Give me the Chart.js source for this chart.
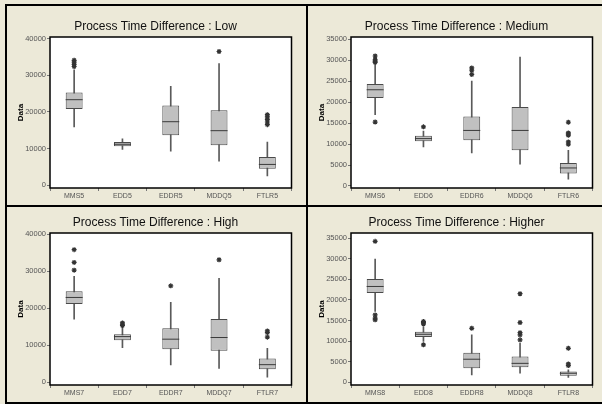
<!DOCTYPE html>
<html>
<head>
<meta charset="utf-8">
<script src="https://cdn.jsdelivr.net/npm/chart.js@4/dist/chart.umd.min.js"></script>
<style>
  html, body { margin: 0; padding: 0; }
  body { width: 602px; height: 404px; background: #ECE9D8; position: relative; overflow: hidden; }
  .rule { position: absolute; background: #000; }
  canvas { position: absolute; }
</style>
</head>
<body>
<div class="rule" style="left:5px;top:4px;width:597px;height:2px"></div>
<div class="rule" style="left:5px;top:4px;width:2px;height:400px"></div>
<div class="rule" style="left:306px;top:4px;width:2px;height:400px"></div>
<div class="rule" style="left:5px;top:205px;width:597px;height:2px"></div>
<div class="rule" style="left:5px;top:402px;width:597px;height:2px"></div>

<canvas id="low" width="294" height="193" style="left:7px;top:11px"></canvas>
<canvas id="medium" width="294" height="193" style="left:308px;top:11px"></canvas>
<canvas id="high" width="294" height="194" style="left:7px;top:207px"></canvas>
<canvas id="higher" width="294" height="194" style="left:308px;top:207px"></canvas>

<script>
// Low
const lowCats = ['MMS5', 'EDD5', 'EDDR5', 'MDDQ5', 'FTLR5'];
const lowMin = [15900, 9800, 9300, 6600, 2550];
const lowQ1 = [20800, 10650, 13650, 10900, 4550];
const lowMed = [23350, 11200, 17350, 14900, 5700];
const lowQ3 = [25300, 11800, 21800, 20450, 7700];
const lowMax = [31500, 12700, 27000, 33200, 11800];
const lowOut = [[32400, 33000, 33600, 34100], [], [], [36500], [16550, 17270, 18000, 18640, 19270]];
const lowTicks = [0, 10000, 20000, 30000, 40000];

// Medium
const medCats = ['MMS6', 'EDD6', 'EDDR6', 'MDDQ6', 'FTLR6'];
const medMin = [17000, 9300, 7900, 5200, 1600];
const medQ1 = [21000, 10650, 10900, 8500, 2950];
const medMed = [22950, 11300, 13250, 13250, 4300];
const medQ3 = [24300, 12000, 16600, 18850, 5500];
const medMax = [29150, 13100, 25000, 30750, 8500];
const medOut = [[15250, 29500, 29800, 30100, 31000], [14100], [26600, 27600, 28150], [], [9950, 10500, 12100, 12400, 12650, 15200]];
const medTicks = [0, 5000, 10000, 15000, 20000, 25000, 30000, 35000];

// High
const highCats = ['MMS7', 'EDD7', 'EDDR7', 'MDDQ7', 'FTLR7'];
const highMin = [17000, 9300, 4600, 3700, 1300];
const highQ1 = [21100, 11300, 8850, 8500, 3450];
const highMed = [22900, 12300, 11600, 12050, 4700];
const highQ3 = [24550, 12950, 14550, 17100, 6350];
const highMax = [28600, 15000, 21550, 28050, 9150];
const highOut = [[30300, 32400, 35850], [15300, 15650, 16000], [26050], [33100], [12150, 13400, 13850]];
const highTicks = [0, 10000, 20000, 30000, 40000];

// Higher
const higherCats = ['MMS8', 'EDD8', 'EDDR8', 'MDDQ8', 'FTLR8'];
const higherMin = [17200, 9900, 1800, 2200, 1200];
const higherQ1 = [21650, 11000, 3400, 3650, 1600];
const higherMed = [23250, 11650, 5600, 4600, 2200];
const higherQ3 = [25050, 12250, 7200, 6250, 2600];
const higherMax = [29900, 13500, 11500, 9500, 3000];
const higherOut = [[15150, 15550, 16350, 34200], [9100, 14200, 14500, 14750], [13100], [10300, 11500, 12050, 14500, 21500], [4050, 4450, 8250]];
const higherTicks = [0, 5000, 10000, 15000, 20000, 25000, 30000, 35000];

Chart.defaults.font.family = "'Liberation Sans', Arial, sans-serif";
Chart.defaults.animation = false;

// white plot area with a black frame
const plotFrame = {
  id: 'plotFrame',
  beforeDraw(chart) {
    const a = chart.chartArea;
    chart.ctx.save();
    chart.ctx.fillStyle = '#fff';
    chart.ctx.fillRect(a.left, a.top, a.right - a.left, a.bottom - a.top);
    chart.ctx.restore();
  },
  afterDraw(chart) {
    const a = chart.chartArea;
    chart.ctx.save();
    chart.ctx.strokeStyle = '#000';
    chart.ctx.lineWidth = 1.5;
    chart.ctx.strokeRect(a.left, a.top, a.right - a.left, a.bottom - a.top);
    chart.ctx.restore();
  }
};

function boxChart(id, title, cats, lo, q1, med, q3, hi, outliers, yMin, yMax, ticks) {
  const outPoints = [];
  outliers.forEach((vals, i) => vals.forEach(v => outPoints.push({ x: cats[i], y: v })));

  return new Chart(document.getElementById(id), {
    type: 'bar',
    data: {
      labels: cats,
      datasets: [
        {
          type: 'line', data: outPoints, showLine: false,
          pointStyle: 'star', pointRadius: 2.5, pointBorderColor: '#333', pointBorderWidth: 1.2,
          order: 0
        },
        {
          type: 'line', data: med, showLine: false,
          pointStyle: 'line', pointRadius: 8.5, pointBorderColor: '#3a3a3a', pointBorderWidth: 1,
          order: 1
        },
        {
          data: cats.map((c, i) => [q1[i], q3[i]]),
          backgroundColor: '#c0c0c0', borderColor: '#4a4a4a', borderWidth: 1, borderSkipped: false,
          barPercentage: 0.35, categoryPercentage: 1, grouped: false,
          order: 2
        },
        {
          data: cats.map((c, i) => [lo[i], hi[i]]),
          backgroundColor: '#5a5a5a', barThickness: 1, grouped: false,
          order: 3
        }
      ]
    },
    options: {
      responsive: false,
      events: [],
      layout: { padding: { left: 12, right: 9, top: 0, bottom: 0 } },
      plugins: {
        legend: { display: false },
        tooltip: { enabled: false },
        title: {
          display: true, text: title, color: '#111',
          font: { size: 12, weight: 'normal', lineHeight: 1 },
          padding: { top: 10, bottom: 4 }
        }
      },
      scales: {
        x: {
          offset: true,
          grid: { drawOnChartArea: false, tickLength: 3, color: '#777' },
          border: { display: false },
          ticks: { color: '#555', font: { size: 7 }, padding: 1, maxRotation: 0 },
          afterFit: s => { s.height = 16; }
        },
        y: {
          min: yMin, max: yMax,
          afterBuildTicks: s => { s.ticks = ticks.map(v => ({ value: v })); },
          grid: { drawOnChartArea: false, tickLength: 3, color: '#777' },
          border: { display: false },
          ticks: { color: '#555', font: { size: 7.5 }, padding: 1, callback: v => String(v) },
          title: {
            display: true, text: 'Data', color: '#000',
            font: { size: 8, weight: 'bold', lineHeight: 1 },
            padding: { top: -2.5, bottom: 0 }
          },
          afterFit: s => { s.width = 31; }
        }
      }
    },
    plugins: [plotFrame]
  });
}

boxChart('low', 'Process Time Difference : Low', lowCats, lowMin, lowQ1, lowMed, lowQ3, lowMax, lowOut, -730, 40450, lowTicks);
boxChart('medium', 'Process Time Difference : Medium', medCats, medMin, medQ1, medMed, medQ3, medMax, medOut, -480, 35530, medTicks);
boxChart('high', 'Process Time Difference : High', highCats, highMin, highQ1, highMed, highQ3, highMax, highOut, -810, 40360, highTicks);
boxChart('higher', 'Process Time Difference : Higher', higherCats, higherMin, higherQ1, higherMed, higherQ3, higherMax, higherOut, -650, 36220, higherTicks);
</script>
</body>
</html>
